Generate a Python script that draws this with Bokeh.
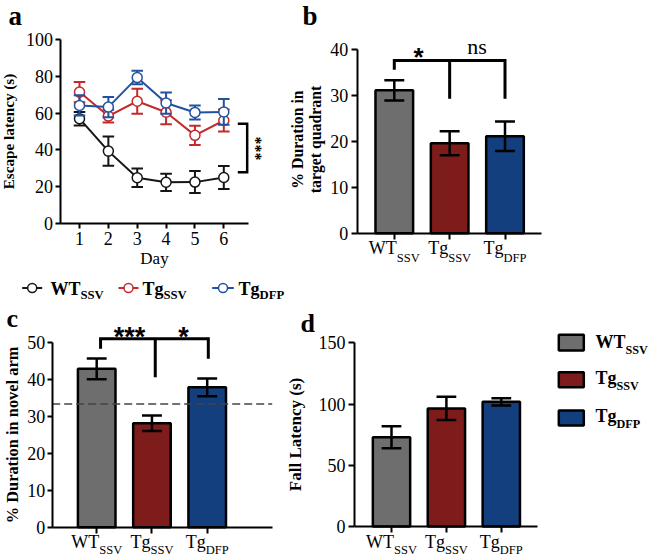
import math
from bokeh.plotting import figure
from bokeh.models import Range1d, FixedTicker, Label
from bokeh.layouts import column, row
from bokeh.embed import file_html
from bokeh.resources import INLINE
from bokeh.core.properties import value

# ---------------- data ----------------
days = [1, 2, 3, 4, 5, 6]
latency_wt_ssv = [57.0, 39.3, 24.8, 22.3, 22.4, 24.9]
latency_wt_ssv_sem = [3.7, 8.0, 5.0, 4.7, 6.0, 6.3]
latency_tg_ssv = [71.5, 58.4, 66.5, 60.5, 47.9, 56.0]
latency_tg_ssv_sem = [5.5, 3.5, 6.8, 6.5, 5.3, 6.0]
latency_tg_dfp = [64.2, 63.3, 79.4, 65.5, 60.4, 60.7]
latency_tg_dfp_sem = [5.5, 5.5, 3.7, 5.8, 3.8, 7.0]
latency_ticks = [0, 20, 40, 60, 80, 100]

group_main = ["WT", "Tg", "Tg"]
group_sub = ["SSV", "SSV", "DFP"]
group_pos = [0, 1, 2]

target_quadrant = [31.1, 19.6, 21.1]
target_quadrant_sem = [2.2, 2.6, 3.2]
target_ticks = [0, 10, 20, 30, 40]

novel_arm = [42.8, 28.1, 37.8]
novel_arm_sem = [2.8, 2.1, 2.4]
novel_ticks = [0, 10, 20, 30, 40, 50]
chance_level = 33.3

fall_latency = [72.8, 96.4, 101.8]
fall_latency_sem = [9.0, 9.5, 3.0]
fall_ticks = [0, 50, 100, 150]

# significance brackets (data units)
sig_a_span = [27.8, 54.2]
sig_a_x = [6.485, 6.81]
sig_b_top = 37.6
sig_b_ends = [35.6, 29.3, 29.3]
sig_c_pos = [0.07, 1.06, 2.02]
sig_c_top = 50.9
sig_c_ends = [48.2, 40.5, 45.5]

line_colors = ["#151515", "#c22a2c", "#22529f"]
bar_colors = ["#6e6e6e", "#7e1c1b", "#133f7e"]

# ---------------- layout helpers (page pixels) ----------------
SERIF = "Liberation Serif, Times New Roman, Times, DejaVu Serif, serif"
SANS = "Liberation Sans, Arial, DejaVu Sans, sans-serif"
MID = 0.3375  # baseline sits this many em below the middle of the text box


def fs(px):
    return f"{px:.1f}px"


REG = {"W": .944, "T": .611, "g": .5, "S": .556, "V": .722, "D": .722, "F": .556, "P": .556}
BOLD = {"W": 1.0, "T": .667, "g": .5, "S": .556, "V": .722, "D": .722, "F": .611, "P": .611}


def tw(s, size, bold=False):
    t = BOLD if bold else REG
    return sum(t.get(ch, .5) for ch in s) * size


class Panel:
    """A figure whose frame fills the whole canvas; axes are pinned with fixed_location."""

    def __init__(self, ox, oy, w, h, xmap, ymap):
        (xd1, xr1), (xd2, xr2) = xmap
        (yd1, yr1), (yd2, yr2) = ymap
        self.ox, self.oy = ox, oy
        c1, c2 = xr1 - ox, xr2 - ox
        self.kx = (xd2 - xd1) / (c2 - c1)
        self.xs = xd1 - c1 * self.kx
        r1, r2 = yr1 - oy, yr2 - oy
        self.ky = (yd2 - yd1) / (r2 - r1)
        self.yt = yd1 - r1 * self.ky
        p = figure(width=w, height=h,
                   x_range=Range1d(self.xs, self.xs + w * self.kx),
                   y_range=Range1d(self.yt + h * self.ky, self.yt),
                   min_border_left=0, min_border_right=0, min_border_top=0, min_border_bottom=0,
                   output_backend="svg", toolbar_location=None,
                   outline_line_color=None, background_fill_color="white",
                   border_fill_color="white")
        p.xgrid.visible = False
        p.ygrid.visible = False
        self.p = p

    def dx(self, rx):
        return self.xs + (rx - self.ox) * self.kx

    def dy(self, ry):
        return self.yt + (ry - self.oy) * self.ky

    def text(self, rx, ry, txt, size, font=SERIF, style="normal", align="left", angle=0.0):
        # (rx, ry) is the baseline anchor; convert to the middle of the text box
        if angle:
            rx = rx - MID * size
        else:
            ry = ry - MID * size
        self.p.add_layout(Label(
            x=self.dx(rx), y=self.dy(ry), text=txt, text_font=font,
            text_font_size=fs(size), text_font_style=style, text_align=align,
            text_baseline="middle", angle=angle, text_color="black"))

    def group_labels(self, base_main, base_sub, main_size=18, sub_size=12.5):
        for pos, m, s in zip(group_pos, group_main, group_sub):
            wm = tw(m, main_size)
            ws = tw(s, sub_size)
            left = -(wm + ws) / 2
            self.p.add_layout(Label(x=pos, y=self.dy(base_main - MID * main_size), x_offset=left,
                                    text=m, text_font=SERIF, text_font_size=fs(main_size),
                                    text_baseline="middle", text_align="left", text_color="black"))
            self.p.add_layout(Label(x=pos, y=self.dy(base_sub - MID * sub_size), x_offset=left + wm,
                                    text=s, text_font=SERIF, text_font_size=fs(sub_size),
                                    text_baseline="middle", text_align="left", text_color="black"))


def style_axes(P, xbounds_px, ybounds, xticks, yticks, ylabel, ylabel_size, ylabel_standoff,
               ytick_out=5, ylab_standoff=2, xlabel=None, hide_x=False):
    p = P.p
    xb = (P.dx(xbounds_px[0]), P.dx(xbounds_px[1]))
    xa, ya = p.xaxis[0], p.yaxis[0]
    xa.fixed_location = ybounds[0]
    xa.bounds = xb
    ya.fixed_location = xb[0]
    ya.bounds = ybounds
    for ax in (xa, ya):
        ax.axis_line_color = "black"
        ax.axis_line_width = 2
        ax.major_tick_line_color = "black"
        ax.major_tick_line_width = 2
        ax.major_tick_in = 0
        ax.major_tick_out = 5
        ax.minor_tick_line_color = None
        ax.major_label_text_font = SERIF
        ax.major_label_text_font_size = fs(18)
        ax.major_label_text_color = "black"
        ax.major_label_standoff = 2
        ax.axis_label_text_font = SERIF
        ax.axis_label_text_color = "black"
    ya.major_tick_out = ytick_out
    ya.major_label_standoff = ylab_standoff
    xa.ticker = FixedTicker(ticks=xticks)
    ya.ticker = FixedTicker(ticks=yticks)
    if ylabel:
        ya.axis_label = ylabel
        ya.axis_label_text_font_style = "bold"
        ya.axis_label_text_font_size = fs(ylabel_size)
        ya.axis_label_standoff = ylabel_standoff
    if xlabel:
        xa.axis_label = xlabel
        xa.axis_label_text_font_style = "normal"
        xa.axis_label_text_font_size = fs(17)
        xa.axis_label_standoff = 0
        xa.major_label_standoff = 4
    if hide_x:
        xa.major_label_overrides = {t: "" for t in xticks}
        xa.major_label_standoff = 0
        xa.major_tick_out = 6
    return xb


def bars(P, vals, sems, width=0.68, cap=0.18):
    p = P.p
    p.vbar(x=group_pos, top=vals, bottom=0, width=width, fill_color=bar_colors,
           line_color="black", line_width=2.5)
    lo = [v - e for v, e in zip(vals, sems)]
    hi = [v + e for v, e in zip(vals, sems)]
    p.segment(x0=group_pos, y0=lo, x1=group_pos, y1=hi, line_color="black", line_width=2.5)
    for yy in (lo, hi):
        p.segment(x0=[g - cap for g in group_pos], y0=yy, x1=[g + cap for g in group_pos], y1=yy,
                  line_color="black", line_width=2.5)


def glyph_text(fig, x, base_y, txt, size, style="bold"):
    fig.text(x=[x], y=[base_y - MID * size], text=[txt], text_font=value(SERIF),
             text_font_style=value(style), text_font_size=value(fs(size)),
             text_baseline=value("middle"), text_align=value("left"), text_color="black")


# ---------------- row geometry ----------------
ROW1_H = 273
LEG_OY, LEG_H = ROW1_H, 29
ROW2_Y = LEG_OY + LEG_H
ROW2_H = 557 - ROW2_Y
A_W = 277
C_W, D_W = 286, 265

# ---------------- panel a ----------------
A = Panel(0, 0, A_W, ROW1_H, ((1, 79.0), (6, 223.3)), ((0, 222.7), (100, 39.3)))
style_axes(A, (59.5, 248.0), (0, 100), days, latency_ticks, "Escape latency (s)", 15.2, 7,
           xlabel="Day")
pa = A.p
for vals, sems, col in ((latency_wt_ssv, latency_wt_ssv_sem, line_colors[0]),
                        (latency_tg_ssv, latency_tg_ssv_sem, line_colors[1]),
                        (latency_tg_dfp, latency_tg_dfp_sem, line_colors[2])):
    lo = [v - e for v, e in zip(vals, sems)]
    hi = [v + e for v, e in zip(vals, sems)]
    pa.line(days, vals, line_color=col, line_width=2)
    pa.segment(x0=days, y0=lo, x1=days, y1=hi, line_color=col, line_width=2)
    for yy in (lo, hi):
        pa.segment(x0=[d - 0.2 for d in days], y0=yy, x1=[d + 0.2 for d in days], y1=yy,
                   line_color=col, line_width=2)
    pa.scatter(days, vals, marker="circle", size=10, fill_color="white", line_color=col, line_width=1.5)
pa.line([sig_a_x[0], sig_a_x[1], sig_a_x[1], sig_a_x[0]],
        [sig_a_span[1], sig_a_span[1], sig_a_span[0], sig_a_span[0]],
        line_color="black", line_width=2.5, line_join="miter")
A.text(265, 148, "***", 16, style="bold", align="center", angle=math.pi / 2)
A.text(8, 25, "a", 27, style="bold")

# ---------------- panel b ----------------
B = Panel(A_W, 0, 649 - A_W, ROW1_H, ((0, 393.8), (2, 504.5)), ((0, 232.7), (40, 49.0)))
style_axes(B, (356.7, 540.7), (0, 40), group_pos, target_ticks, None, 15.8, 5,
           ytick_out=6, ylab_standoff=3, hide_x=True)
bars(B, target_quadrant, target_quadrant_sem)
B.p.line([0, 0, 2, 2], [sig_b_ends[0], sig_b_top, sig_b_top, sig_b_ends[2]],
         line_color="black", line_width=3, line_join="miter")
B.p.line([1, 1], [sig_b_top, sig_b_ends[1]], line_color="black", line_width=3)
B.text(302, 139, "% Duration in", 15.8, style="bold", align="center", angle=math.pi / 2)
B.text(320.5, 139, "target quadrant", 15.8, style="bold", align="center", angle=math.pi / 2)
B.text(418, 65.5, "*", 26, font=SANS, style="bold", align="center")
B.text(466.7, 53.3, "ns", 22)
B.text(302, 25, "b", 27, style="bold")
B.group_labels(253.3, 261.5)

# ---------------- legend row for panel a ----------------
leg = figure(width=649, height=LEG_H, x_range=Range1d(0, 649), y_range=Range1d(LEG_H, 0),
             x_axis_type=None, y_axis_type=None, min_border_left=0, min_border_right=0,
             min_border_top=0, min_border_bottom=0, outline_line_color=None,
             output_backend="svg", toolbar_location=None)
leg.xgrid.visible = False
leg.ygrid.visible = False
leg_line_x = [(21.7, 41.7), (118.0, 138.0), (211.7, 233.3)]
leg_text_x = [50.0, 142.0, 238.0]
for i in range(3):
    x0, x1 = leg_line_x[i]
    yl = 287.5 - LEG_OY
    leg.segment(x0=[x0], y0=[yl], x1=[x1], y1=[yl], line_color=line_colors[i], line_width=2)
    leg.scatter(x=[(x0 + x1) / 2], y=[yl], marker="circle", size=9, fill_color="white",
                line_color=line_colors[i], line_width=1.5)
    tx = leg_text_x[i]
    glyph_text(leg, tx, 294.5 - LEG_OY, group_main[i], 18)
    glyph_text(leg, tx + tw(group_main[i], 18, True), 299.0 - LEG_OY, group_sub[i], 12.7)

# ---------------- panel c ----------------
C = Panel(0, ROW2_Y, C_W, ROW2_H, ((0, 96.2), (2, 206.7)), ((0, 526.7), (50, 341.7)))
xb_c = style_axes(C, (51.7, 271.7), (0, 50), group_pos, novel_ticks, "% Duration in novel arm",
                  16.4, 3, hide_x=True)
bars(C, novel_arm, novel_arm_sem)
C.p.segment(x0=[xb_c[0]], y0=[chance_level], x1=[xb_c[1]], y1=[chance_level],
            line_color="#444444", line_width=1.6, line_dash="8 4")
C.p.line([sig_c_pos[0], sig_c_pos[0], sig_c_pos[2], sig_c_pos[2]],
         [sig_c_ends[0], sig_c_top, sig_c_top, sig_c_ends[2]],
         line_color="black", line_width=3, line_join="miter")
C.p.line([sig_c_pos[1], sig_c_pos[1]], [sig_c_top, sig_c_ends[1]], line_color="black", line_width=3)
C.text(129, 346, "***", 27, font=SANS, style="bold", align="center")
C.text(183, 346, "*", 27, font=SANS, style="bold", align="center")
C.text(6, 327, "c", 26, style="bold")
C.group_labels(547.5, 553.5)

# ---------------- panel d ----------------
D = Panel(C_W, ROW2_Y, D_W, ROW2_H, ((0, 391.0), (2, 500.8)), ((0, 526.0), (150, 342.3)))
style_axes(D, (354.0, 537.3), (0, 150), group_pos, fall_ticks, "Fall Latency (s)", 17, 11,
           ytick_out=6, ylab_standoff=3, hide_x=True)
bars(D, fall_latency, fall_latency_sem)
D.text(300, 331.5, "d", 26, style="bold")
D.group_labels(547.5, 553.5)

# ---------------- legend for bar panels ----------------
E_OX = C_W + D_W
E_W = 649 - E_OX
E = figure(width=E_W, height=ROW2_H, x_range=Range1d(0, E_W), y_range=Range1d(ROW2_H, 0),
           x_axis_type=None, y_axis_type=None, min_border_left=0, min_border_right=0,
           min_border_top=0, min_border_bottom=0, outline_line_color=None,
           output_backend="svg", toolbar_location=None)
E.xgrid.visible = False
E.ygrid.visible = False
box_x = (558.3, 583.3)
box_y = [(334.3, 350.0), (371.7, 386.7), (410.0, 425.0)]
e_text_x = 595.0
e_base = [347.7, 383.5, 421.7]
E.quad(left=[box_x[0] - E_OX] * 3, right=[box_x[1] - E_OX] * 3,
       top=[b[0] - ROW2_Y for b in box_y], bottom=[b[1] - ROW2_Y for b in box_y],
       fill_color=bar_colors, line_color="black", line_width=2.5)
for i in range(3):
    tx = e_text_x - E_OX
    glyph_text(E, tx, e_base[i] - ROW2_Y, group_main[i], 18)
    glyph_text(E, tx + tw(group_main[i], 18, True), e_base[i] + 6.3 - ROW2_Y, group_sub[i], 12.2)

layout = column(row(A.p, B.p), leg, row(C.p, D.p, E))
open("out.html", "w").write(file_html(layout, INLINE))
